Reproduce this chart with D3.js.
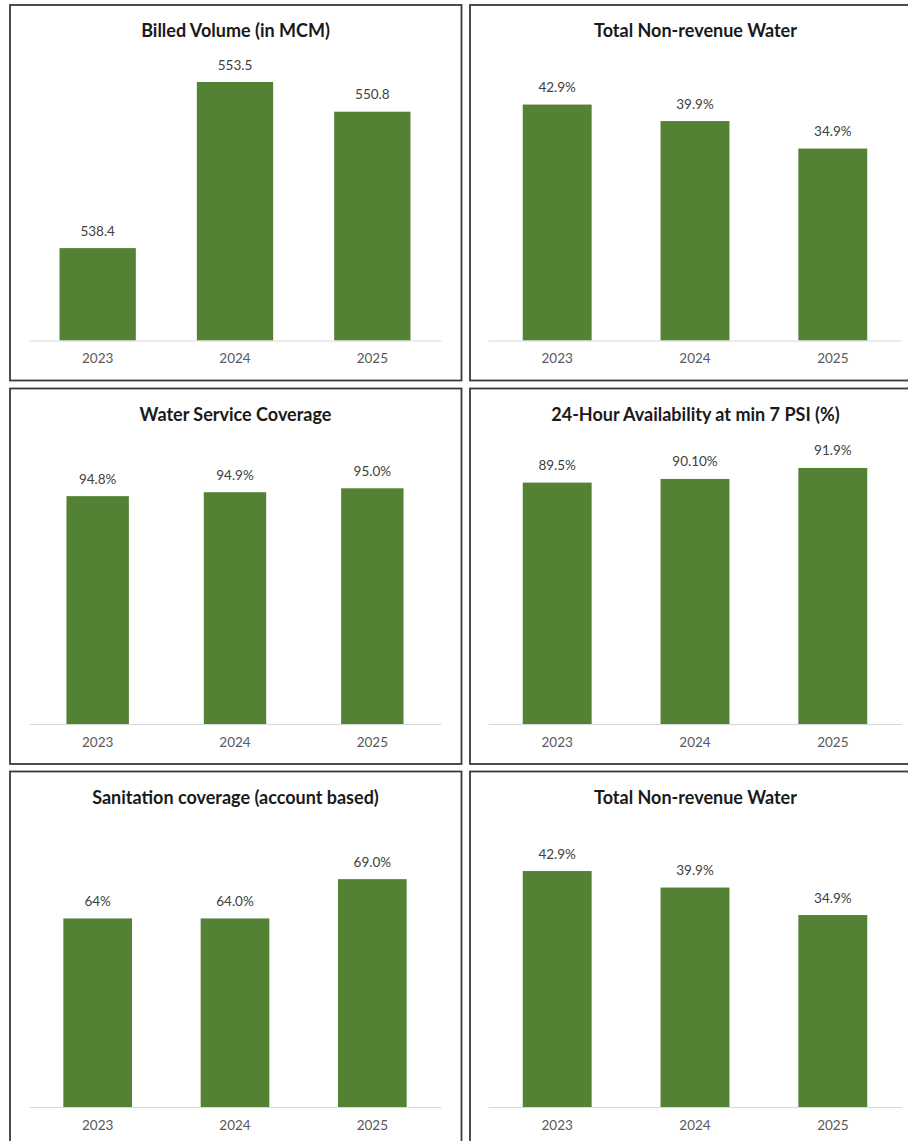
<!DOCTYPE html>
<html>
<head>
<meta charset="utf-8">
<script src="https://cdn.jsdelivr.net/npm/d3@7"></script>
<style>
  html, body { margin: 0; padding: 0; background: #fff; }
  svg { display: block; }
  text { font-family: Lato, "Open Sans", sans-serif; }
</style>
</head>
<body>
<svg id="dash" width="908" height="1141"></svg>
<script>
// Years shared by every panel
const years = ["2023", "2024", "2025"];

// Panel titles
const titles = [
  "Billed Volume (in MCM)",
  "Total Non-revenue Water",
  "Water Service Coverage",
  "24-Hour Availability at min 7 PSI (%)",
  "Sanitation coverage (account based)",
  "Total Non-revenue Water"
];

// Series values
const billedVolume       = [538.4, 553.5, 550.8];
const nonRevenueWater    = [42.9, 39.9, 34.9];
const serviceCoverage    = [94.8, 94.9, 95.0];
const availability24h    = [89.5, 90.1, 91.9];
const sanitationCoverage = [64.0, 64.0, 69.0];

// Data label texts as printed above each bar
const billedLabels       = ["538.4", "553.5", "550.8"];
const nrwLabels          = ["42.9%", "39.9%", "34.9%"];
const coverageLabels     = ["94.8%", "94.9%", "95.0%"];
const availabilityLabels = ["89.5%", "90.10%", "91.9%"];
const sanitationLabels   = ["64%", "64.0%", "69.0%"];

// Value-axis ranges of each panel
const axisRanges = [[530, 555], [0, 50], [89, 96], [50, 95], [40, 75], [0, 50]];

const seriesList = [billedVolume, nonRevenueWater, serviceCoverage, availability24h, sanitationCoverage, nonRevenueWater];
const labelList  = [billedLabels, nrwLabels, coverageLabels, availabilityLabels, sanitationLabels, nrwLabels];
// Gap between bars relative to bar width
const gapWidths  = [0.8, 1.0, 1.2, 1.0, 1.0, 1.0];

// Panel frames (left, top) in a 2 x 3 grid
const frameLefts = [10, 470];
const frameTops  = [5, 388.5, 771.5];
const frameW = 451.5, frameH = 375.5;

const svg = d3.select("#dash");
const green = "#548235";

titles.forEach((title, i) => {
  const col = i % 2, row = Math.floor(i / 2);
  const fx = frameLefts[col], fy = frameTops[row];
  const g = svg.append("g").attr("transform", `translate(${fx},${fy})`);

  const plotLeft = col === 0 ? 19 : 18.3;
  const plotW = col === 0 ? 412 : 413.4;
  const plotTop = 60.5, baseline = 335.5;

  const x = d3.scaleBand()
    .domain(years)
    .range([plotLeft, plotLeft + plotW]);
  const p = gapWidths[i] / (1 + gapWidths[i]);
  x.paddingInner(p).paddingOuter(p / 2);

  const y = d3.scaleLinear()
    .domain(axisRanges[i])
    .range([baseline, plotTop]);

  const values = seriesList[i];
  const labels = labelList[i];

  // Frame
  g.append("rect")
    .attr("x", 0).attr("y", 0)
    .attr("width", frameW).attr("height", frameH)
    .attr("fill", "#fff")
    .attr("stroke", "#3a3a3a")
    .attr("stroke-width", 1.8);

  // Title
  g.append("text")
    .attr("x", plotLeft + plotW / 2 + 0.5)
    .attr("y", 32)
    .attr("text-anchor", "middle")
    .attr("font-size", 18)
    .attr("font-weight", 700)
    .attr("fill", "#1a1a1a")
    .text(title);

  // Bars
  g.selectAll("rect.bar")
    .data(years)
    .join("rect")
    .attr("class", "bar")
    .attr("x", d => x(d))
    .attr("width", x.bandwidth())
    .attr("y", (d, k) => y(values[k]))
    .attr("height", (d, k) => baseline - y(values[k]))
    .attr("fill", green);

  // Data labels
  g.selectAll("text.val")
    .data(years)
    .join("text")
    .attr("class", "val")
    .attr("x", d => x(d) + x.bandwidth() / 2)
    .attr("y", (d, k) => y(values[k]) - 12.5)
    .attr("text-anchor", "middle")
    .attr("font-size", 13.5)
    .attr("fill", "#404040")
    .text((d, k) => labels[k]);

  // Category axis
  const axis = g.append("g")
    .attr("transform", `translate(0,${baseline})`)
    .call(d3.axisBottom(x).tickSize(0).tickPadding(13));
  axis.select(".domain").attr("stroke", "#d9d9d9").attr("stroke-width", 1.2);
  axis.selectAll(".tick text")
    .attr("font-family", "Lato, 'Open Sans', sans-serif")
    .attr("font-size", 13.5)
    .attr("fill", "#595959");
});
</script>
</body>
</html>
